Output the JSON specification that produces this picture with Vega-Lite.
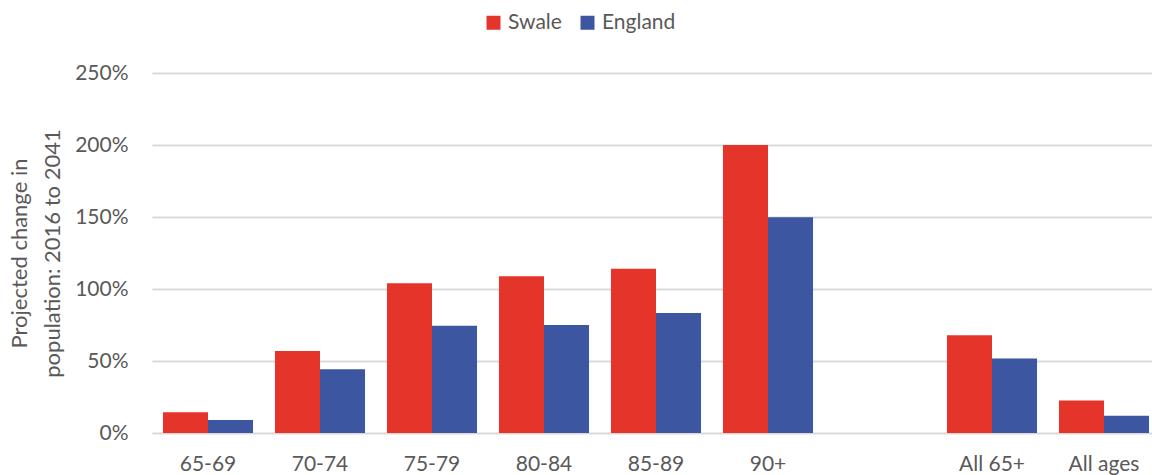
{
  "$schema": "https://vega.github.io/schema/vega-lite/v6.json",
  "autosize": {"type": "none"},
  "padding": {"left": 152, "top": 73, "right": 0, "bottom": 42},
  "width": 1008,
  "height": 360,
  "background": "white",
  "config": {
    "font": "Lato",
    "view": {"stroke": null},
    "axis": {"labelFont": "Lato", "titleFont": "Lato", "labelColor": "#595959", "titleColor": "#595959"}
  },
  "data": {
    "values": [
      {"age": "65-69", "area": "Swale", "change": 0.144},
      {"age": "65-69", "area": "England", "change": 0.09},
      {"age": "70-74", "area": "Swale", "change": 0.569},
      {"age": "70-74", "area": "England", "change": 0.442},
      {"age": "75-79", "area": "Swale", "change": 1.04},
      {"age": "75-79", "area": "England", "change": 0.745},
      {"age": "80-84", "area": "Swale", "change": 1.088},
      {"age": "80-84", "area": "England", "change": 0.75},
      {"age": "85-89", "area": "Swale", "change": 1.141},
      {"age": "85-89", "area": "England", "change": 0.833},
      {"age": "90+", "area": "Swale", "change": 2.0},
      {"age": "90+", "area": "England", "change": 1.498},
      {"age": "All 65+", "area": "Swale", "change": 0.678},
      {"age": "All 65+", "area": "England", "change": 0.518},
      {"age": "All ages", "area": "Swale", "change": 0.225},
      {"age": "All ages", "area": "England", "change": 0.12}
    ]
  },
  "mark": {"type": "bar"},
  "encoding": {
    "x": {
      "field": "age",
      "type": "nominal",
      "scale": {
        "domain": ["65-69", "70-74", "75-79", "80-84", "85-89", "90+", " ", "All 65+", "All ages"],
        "paddingInner": 0.196,
        "paddingOuter": 0.098
      },
      "axis": {
        "title": null,
        "labelAngle": 0,
        "labelFontSize": 21,
        "labelPadding": 20,
        "ticks": false,
        "domain": false
      }
    },
    "xOffset": {
      "field": "area",
      "type": "nominal",
      "scale": {"domain": ["Swale", "England"], "paddingInner": 0, "paddingOuter": 0}
    },
    "y": {
      "field": "change",
      "type": "quantitative",
      "scale": {"domain": [0, 2.5], "nice": false},
      "axis": {
        "format": ".0%",
        "values": [0, 0.5, 1, 1.5, 2, 2.5],
        "title": ["Projected change in", "population: 2016 to 2041"],
        "titleFontSize": 22,
        "titleFontWeight": "normal",
        "titleLineHeight": 33,
        "titlePadding": 10,
        "labelFontSize": 21,
        "labelPadding": 24,
        "ticks": false,
        "domain": false,
        "gridColor": "#D9D9D9",
        "gridWidth": 2
      }
    },
    "color": {
      "field": "area",
      "type": "nominal",
      "scale": {"domain": ["Swale", "England"], "range": ["#E5352A", "#3C56A2"]},
      "legend": {
        "title": null,
        "orient": "none",
        "direction": "horizontal",
        "legendX": 331,
        "legendY": -61,
        "symbolType": "square",
        "symbolSize": 196,
        "symbolStrokeWidth": 0,
        "labelFontSize": 21,
        "labelColor": "#595959",
        "labelFont": "Lato",
        "columnPadding": 15,
        "labelOffset": 4
      }
    }
  }
}
